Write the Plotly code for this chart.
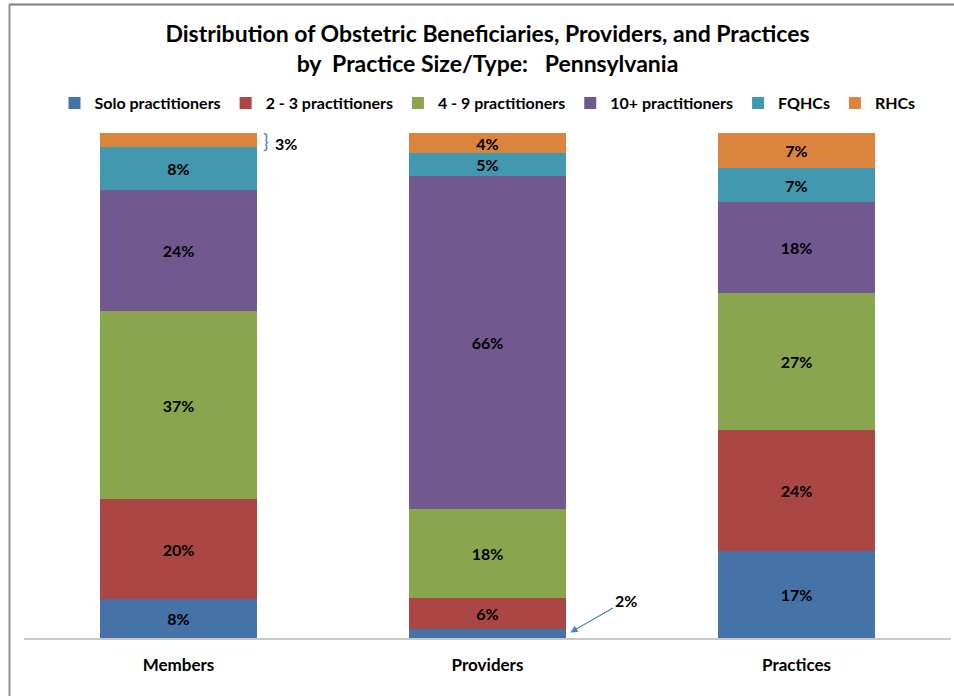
import plotly.graph_objects as go

categories = ["Members", "Providers", "Practices"]
series_names = ["Solo practitioners", "2 - 3 practitioners", "4 - 9 practitioners",
                "10+ practitioners", "FQHCs", "RHCs"]
solo = [7.7, 1.8, 17.2]
two_three = [19.8, 6.1, 24.0]
four_nine = [37.2, 17.6, 27.1]
ten_plus = [24.0, 65.9, 18.0]
fqhc = [8.5, 4.6, 6.8]
rhc = [2.8, 4.0, 6.9]
series_values = [solo, two_three, four_nine, ten_plus, fqhc, rhc]
colors = ["#4572A7", "#AA4643", "#89A54E", "#71588F", "#4198AF", "#DB843D"]

FONT = "Lato, Open Sans, sans-serif"

W, H = 954, 696
ML, MR, MT, MB = 24, 3, 133, 58
PW = W - ML - MR
PH = H - MT - MB

def px_to_paper_x(px):
    return (px - ML) / PW

def px_to_paper_y(py):
    return (H - MB - py) / PH

fig = go.Figure()
for name, vals, col in zip(series_names, series_values, colors):
    texts = [f"{v:.0f}%" if v >= 3.5 else "" for v in vals]
    fig.add_trace(go.Bar(
        x=categories, y=vals, name=name, marker=dict(color=col, line=dict(width=0)),
        text=texts, textposition="inside", insidetextanchor="middle", textangle=0,
        textfont=dict(family=FONT, size=16, color="#000000", weight="bold"),
        hoverinfo="skip",
    ))

# small-segment callouts
fig.add_annotation(x=0, y=100 - rhc[0] / 2, xref="x", yref="y", text="}",
                   showarrow=False, xshift=87, font=dict(family=FONT, size=19, color="#4F81BD"))
fig.add_annotation(x=0, y=100 - rhc[0] / 2 - 0.6, xref="x", yref="y", text=f"{rhc[0]:.0f}%",
                   showarrow=False, xshift=107, font=dict(family=FONT, size=16, color="#000", weight="bold"))
fig.add_annotation(x=1, y=solo[1] / 2 + 0.1, xref="x", yref="y", text=f"{solo[1]:.0f}%",
                   showarrow=True, arrowhead=2, arrowsize=1.2, arrowwidth=1.2, arrowcolor="#4F81BD",
                   xshift=82, ax=56, ay=-32, standoff=1,
                   font=dict(family=FONT, size=16, color="#000", weight="bold"))

# frame lines (top and left)
fig.add_shape(type="line", xref="paper", yref="paper",
              x0=px_to_paper_x(9), x1=px_to_paper_x(954), y0=px_to_paper_y(4.5), y1=px_to_paper_y(4.5),
              line=dict(color="#808080", width=2))
fig.add_shape(type="line", xref="paper", yref="paper",
              x0=px_to_paper_x(9.5), x1=px_to_paper_x(9.5), y0=px_to_paper_y(4), y1=px_to_paper_y(696),
              line=dict(color="#909090", width=2))

fig.update_layout(
    width=W, height=H, barmode="stack", bargap=0.49,
    margin=dict(l=ML, r=MR, t=MT, b=MB),
    paper_bgcolor="white", plot_bgcolor="white",
    uniformtext=dict(minsize=16, mode="show"),
    title=dict(text="Distribution of Obstetric Beneficiaries, Providers, and Practices<br>by  Practice Size/Type:   Pennsylvania",
               x=0.5, xref="paper", y=1 - 42 / H, yanchor="middle",
               font=dict(family=FONT, size=23, color="#000", weight="bold")),
    legend=dict(orientation="h", x=0.5, xanchor="center", y=px_to_paper_y(103), yanchor="middle",
                font=dict(family=FONT, size=16, color="#000", weight="bold"),
                itemwidth=30, traceorder="normal", tracegroupgap=0),
    xaxis=dict(showline=True, linecolor="#C8C8C8", linewidth=2, ticks="", showgrid=False,
               tickfont=dict(family=FONT, size=17, color="#000", weight="bold"), ticklabelstandoff=11),
    yaxis=dict(range=[0, 100], visible=False, showgrid=False),
    showlegend=True,
)

fig.write_html("out.html")
